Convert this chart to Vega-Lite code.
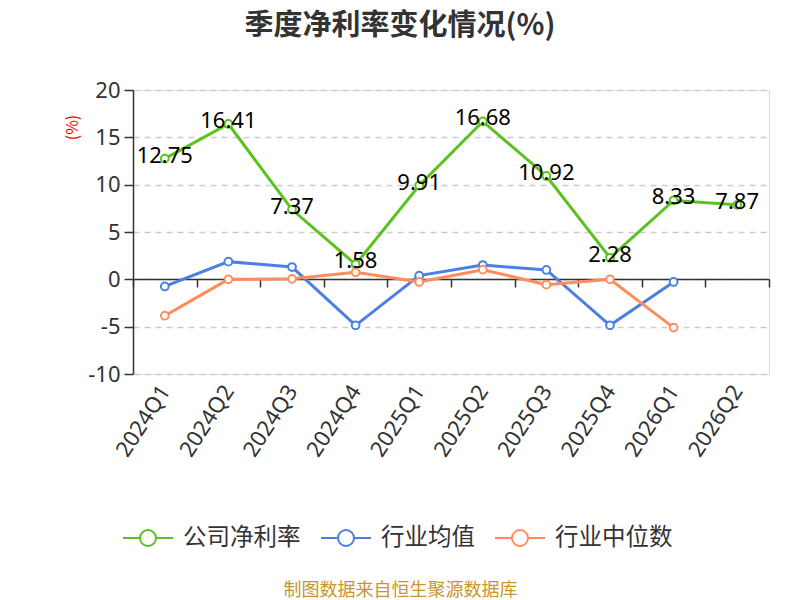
{
  "$schema": "https://vega.github.io/schema/vega-lite/v6.json",
  "width": 636,
  "height": 284,
  "autosize": "none",
  "padding": {"left": 133, "top": 90, "right": 31, "bottom": 226},
  "background": "white",
  "title": {
    "text": "季度净利率变化情况(%)",
    "fontSize": 29,
    "fontWeight": "bold",
    "color": "#333333",
    "font": "Noto Sans CJK SC",
    "anchor": "middle",
    "frame": "group",
    "dx": -51,
    "offset": 38
  },
  "data": {
    "values": [
      {"quarter": "2024Q1", "series": "公司净利率", "value": 12.75},
      {"quarter": "2024Q2", "series": "公司净利率", "value": 16.41},
      {"quarter": "2024Q3", "series": "公司净利率", "value": 7.37},
      {"quarter": "2024Q4", "series": "公司净利率", "value": 1.58},
      {"quarter": "2025Q1", "series": "公司净利率", "value": 9.91},
      {"quarter": "2025Q2", "series": "公司净利率", "value": 16.68},
      {"quarter": "2025Q3", "series": "公司净利率", "value": 10.92},
      {"quarter": "2025Q4", "series": "公司净利率", "value": 2.28},
      {"quarter": "2026Q1", "series": "公司净利率", "value": 8.33},
      {"quarter": "2026Q2", "series": "公司净利率", "value": 7.87},
      {"quarter": "2024Q1", "series": "行业均值", "value": -0.75},
      {"quarter": "2024Q2", "series": "行业均值", "value": 1.87},
      {"quarter": "2024Q3", "series": "行业均值", "value": 1.3},
      {"quarter": "2024Q4", "series": "行业均值", "value": -4.86},
      {"quarter": "2025Q1", "series": "行业均值", "value": 0.39},
      {"quarter": "2025Q2", "series": "行业均值", "value": 1.51},
      {"quarter": "2025Q3", "series": "行业均值", "value": 0.99},
      {"quarter": "2025Q4", "series": "行业均值", "value": -4.86},
      {"quarter": "2026Q1", "series": "行业均值", "value": -0.28},
      {"quarter": "2024Q1", "series": "行业中位数", "value": -3.84},
      {"quarter": "2024Q2", "series": "行业中位数", "value": 0.0},
      {"quarter": "2024Q3", "series": "行业中位数", "value": 0.05},
      {"quarter": "2024Q4", "series": "行业中位数", "value": 0.74},
      {"quarter": "2025Q1", "series": "行业中位数", "value": -0.28},
      {"quarter": "2025Q2", "series": "行业中位数", "value": 1.02},
      {"quarter": "2025Q3", "series": "行业中位数", "value": -0.56},
      {"quarter": "2025Q4", "series": "行业中位数", "value": 0.0},
      {"quarter": "2026Q1", "series": "行业中位数", "value": -5.1}
    ]
  },
  "encoding": {
    "x": {
      "field": "quarter",
      "type": "ordinal",
      "scale": {
        "type": "band",
        "paddingInner": 0,
        "paddingOuter": 0,
        "domain": ["2024Q1", "2024Q2", "2024Q3", "2024Q4", "2025Q1", "2025Q2", "2025Q3", "2025Q4", "2026Q1", "2026Q2"]
      },
      "axis": {
        "title": "制图数据来自恒生聚源数据库",
        "titleColor": "#C8952F",
        "titleFontSize": 18,
        "titleFontWeight": "normal",
        "titleFont": "Noto Sans CJK SC",
        "titleX": 267,
        "titleY": 311,
        "titleAlign": "center",
        "titleBaseline": "middle",
        "offset": -95,
        "tickBand": "extent",
        "domainColor": "#333333",
        "domainWidth": 1.5,
        "tickColor": "#333333",
        "tickWidth": 1.5,
        "tickSize": 8,
        "labelAngle": -57,
        "labelAlign": "right",
        "labelBaseline": "middle",
        "labelPadding": 100,
        "labelFontSize": 22,
        "labelColor": "#333333",
        "labelFont": "Noto Sans",
        "grid": false
      }
    },
    "y": {
      "field": "value",
      "type": "quantitative",
      "scale": {"domain": [-10, 20], "nice": false, "zero": false},
      "axis": {
        "values": [-10, -5, 0, 5, 10, 15, 20],
        "labelExpr": "toString(datum.value)",
        "title": "(%)",
        "titleColor": "#FF0000",
        "titleFontSize": 16,
        "titleFontWeight": "normal",
        "titleFont": "Noto Sans CJK SC",
        "titleX": -61,
        "titleY": 37,
        "titleAngle": -90,
        "titleAlign": "center",
        "titleBaseline": "middle",
        "domainColor": "#333333",
        "domainWidth": 1.5,
        "tickColor": "#333333",
        "tickWidth": 1.5,
        "tickSize": 9,
        "labelFontSize": 22,
        "labelColor": "#333333",
        "labelFont": "Noto Sans",
        "labelPadding": 4,
        "grid": true,
        "gridColor": "#CCCCCC",
        "gridDash": [6, 5],
        "gridWidth": 1.5
      }
    }
  },
  "layer": [
    {
      "mark": {
        "type": "line",
        "strokeWidth": 3,
        "point": {"filled": false, "fill": "white", "size": 60, "strokeWidth": 2}
      },
      "encoding": {
        "color": {
          "field": "series",
          "type": "nominal",
          "scale": {
            "domain": ["公司净利率", "行业均值", "行业中位数"],
            "range": ["#5BC21C", "#4C7FE4", "#FF8C5A"]
          },
          "legend": {
            "title": null,
            "orient": "none",
            "direction": "horizontal",
            "legendX": -11,
            "legendY": 422,
            "symbolType": "M-1,0L-0.32,0M0.32,0L1,0M-0.32,0A0.32,0.32 0 1,1 0.32,0A0.32,0.32 0 1,1 -0.32,0",
            "symbolSize": 2500,
            "symbolStrokeWidth": 2,
            "symbolFillColor": "white",
            "labelFontSize": 23.5,
            "labelColor": "#333333",
            "labelFont": "Noto Sans CJK SC",
            "labelOffset": 9,
            "columnPadding": 16
          }
        }
      }
    },
    {
      "transform": [{"filter": "datum.series === '公司净利率'"}],
      "mark": {
        "type": "text",
        "fontSize": 22,
        "color": "#000000",
        "font": "Noto Sans",
        "baseline": "middle",
        "dy": -3
      },
      "encoding": {
        "text": {"field": "value", "type": "quantitative", "format": ".2f"}
      }
    }
  ]
}
